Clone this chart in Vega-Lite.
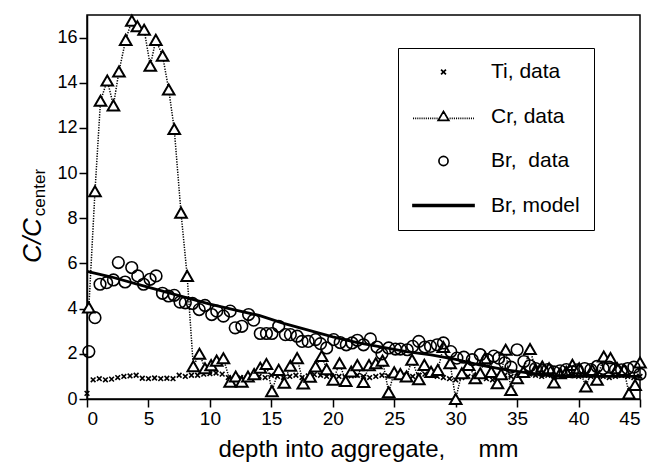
{
  "$schema": "https://vega.github.io/schema/vega-lite/v6.json",
  "width": 553,
  "height": 384,
  "autosize": {"type": "none"},
  "padding": {"left": 87, "top": 15, "right": 14, "bottom": 69},
  "background": "white",
  "config": {
    "font": "Liberation Sans",
    "view": {"stroke": "black", "strokeWidth": 1.5},
    "axis": {
      "grid": false,
      "domainColor": "black",
      "domainWidth": 1.5,
      "tickColor": "black",
      "tickWidth": 1.5,
      "tickSize": 8,
      "labelColor": "black",
      "labelFontSize": 18,
      "labelFont": "Liberation Sans",
      "titleColor": "black",
      "titleFont": "Liberation Sans",
      "titleFontWeight": "normal",
      "labelPadding": 2
    }
  },
  "data": {
    "values": [
      {"series": "Ti, data", "depth": 0.0, "ratio": 0.25},
      {"series": "Ti, data", "depth": 0.5, "ratio": 0.85},
      {"series": "Ti, data", "depth": 1.0, "ratio": 0.9},
      {"series": "Ti, data", "depth": 1.5, "ratio": 0.85},
      {"series": "Ti, data", "depth": 2.0, "ratio": 0.88},
      {"series": "Ti, data", "depth": 2.5, "ratio": 0.95},
      {"series": "Ti, data", "depth": 3.0, "ratio": 1.0},
      {"series": "Ti, data", "depth": 3.5, "ratio": 1.02},
      {"series": "Ti, data", "depth": 4.0, "ratio": 1.05},
      {"series": "Ti, data", "depth": 4.5, "ratio": 0.92},
      {"series": "Ti, data", "depth": 5.0, "ratio": 0.9},
      {"series": "Ti, data", "depth": 5.5, "ratio": 0.93},
      {"series": "Ti, data", "depth": 6.0, "ratio": 0.9},
      {"series": "Ti, data", "depth": 6.5, "ratio": 0.92},
      {"series": "Ti, data", "depth": 7.0, "ratio": 0.9},
      {"series": "Ti, data", "depth": 7.5, "ratio": 1.05},
      {"series": "Ti, data", "depth": 8.0, "ratio": 1.0},
      {"series": "Ti, data", "depth": 8.5, "ratio": 1.05},
      {"series": "Ti, data", "depth": 9.0, "ratio": 1.05},
      {"series": "Ti, data", "depth": 9.5, "ratio": 1.1},
      {"series": "Ti, data", "depth": 10.0, "ratio": 1.12},
      {"series": "Ti, data", "depth": 10.5, "ratio": 1.15},
      {"series": "Ti, data", "depth": 11.0, "ratio": 1.1},
      {"series": "Ti, data", "depth": 11.5, "ratio": 0.95},
      {"series": "Ti, data", "depth": 12.0, "ratio": 0.9},
      {"series": "Ti, data", "depth": 12.5, "ratio": 0.95},
      {"series": "Ti, data", "depth": 13.0, "ratio": 0.92},
      {"series": "Ti, data", "depth": 13.5, "ratio": 0.98},
      {"series": "Ti, data", "depth": 14.0, "ratio": 1.0},
      {"series": "Ti, data", "depth": 14.5, "ratio": 0.95},
      {"series": "Ti, data", "depth": 15.0, "ratio": 1.05},
      {"series": "Ti, data", "depth": 15.5, "ratio": 1.0},
      {"series": "Ti, data", "depth": 16.0, "ratio": 0.95},
      {"series": "Ti, data", "depth": 16.5, "ratio": 1.0},
      {"series": "Ti, data", "depth": 17.0, "ratio": 1.05},
      {"series": "Ti, data", "depth": 17.5, "ratio": 0.95},
      {"series": "Ti, data", "depth": 18.0, "ratio": 1.02},
      {"series": "Ti, data", "depth": 18.5, "ratio": 1.08},
      {"series": "Ti, data", "depth": 19.0, "ratio": 1.05},
      {"series": "Ti, data", "depth": 19.5, "ratio": 1.0},
      {"series": "Ti, data", "depth": 20.0, "ratio": 0.95},
      {"series": "Ti, data", "depth": 20.5, "ratio": 1.0},
      {"series": "Ti, data", "depth": 21.0, "ratio": 0.98},
      {"series": "Ti, data", "depth": 21.5, "ratio": 1.02},
      {"series": "Ti, data", "depth": 22.0, "ratio": 1.05},
      {"series": "Ti, data", "depth": 22.5, "ratio": 1.0},
      {"series": "Ti, data", "depth": 23.0, "ratio": 0.95},
      {"series": "Ti, data", "depth": 23.5, "ratio": 1.0},
      {"series": "Ti, data", "depth": 24.0, "ratio": 1.05},
      {"series": "Ti, data", "depth": 24.5, "ratio": 1.02},
      {"series": "Ti, data", "depth": 25.0, "ratio": 1.05},
      {"series": "Ti, data", "depth": 25.5, "ratio": 1.1},
      {"series": "Ti, data", "depth": 26.0, "ratio": 1.05},
      {"series": "Ti, data", "depth": 26.5, "ratio": 1.0},
      {"series": "Ti, data", "depth": 27.0, "ratio": 1.05},
      {"series": "Ti, data", "depth": 27.5, "ratio": 1.1},
      {"series": "Ti, data", "depth": 28.0, "ratio": 1.05},
      {"series": "Ti, data", "depth": 28.5, "ratio": 1.0},
      {"series": "Ti, data", "depth": 29.0, "ratio": 0.95},
      {"series": "Ti, data", "depth": 29.5, "ratio": 0.9},
      {"series": "Ti, data", "depth": 30.0, "ratio": 0.85},
      {"series": "Ti, data", "depth": 30.5, "ratio": 0.95},
      {"series": "Ti, data", "depth": 31.0, "ratio": 1.0},
      {"series": "Ti, data", "depth": 31.5, "ratio": 0.95},
      {"series": "Ti, data", "depth": 32.0, "ratio": 1.0},
      {"series": "Ti, data", "depth": 32.5, "ratio": 0.9},
      {"series": "Ti, data", "depth": 33.0, "ratio": 0.85},
      {"series": "Ti, data", "depth": 33.5, "ratio": 1.0},
      {"series": "Ti, data", "depth": 34.0, "ratio": 1.05},
      {"series": "Ti, data", "depth": 34.5, "ratio": 1.0},
      {"series": "Ti, data", "depth": 35.0, "ratio": 1.0},
      {"series": "Ti, data", "depth": 35.5, "ratio": 1.05},
      {"series": "Ti, data", "depth": 36.0, "ratio": 1.1},
      {"series": "Ti, data", "depth": 36.5, "ratio": 1.05},
      {"series": "Ti, data", "depth": 37.0, "ratio": 1.0},
      {"series": "Ti, data", "depth": 37.5, "ratio": 1.05},
      {"series": "Ti, data", "depth": 38.0, "ratio": 1.0},
      {"series": "Ti, data", "depth": 38.5, "ratio": 1.05},
      {"series": "Ti, data", "depth": 39.0, "ratio": 1.1},
      {"series": "Ti, data", "depth": 39.5, "ratio": 1.05},
      {"series": "Ti, data", "depth": 40.0, "ratio": 1.0},
      {"series": "Ti, data", "depth": 40.5, "ratio": 1.05},
      {"series": "Ti, data", "depth": 41.0, "ratio": 1.0},
      {"series": "Ti, data", "depth": 41.5, "ratio": 1.05},
      {"series": "Ti, data", "depth": 42.0, "ratio": 1.0},
      {"series": "Ti, data", "depth": 42.5, "ratio": 0.95},
      {"series": "Ti, data", "depth": 43.0, "ratio": 1.0},
      {"series": "Ti, data", "depth": 43.5, "ratio": 1.05},
      {"series": "Ti, data", "depth": 44.0, "ratio": 1.0},
      {"series": "Ti, data", "depth": 44.5, "ratio": 0.95},
      {"series": "Ti, data", "depth": 45.0, "ratio": 1.0},

      {"series": "Cr, data", "depth": 0.15, "ratio": 4.05},
      {"series": "Cr, data", "depth": 0.65, "ratio": 9.2},
      {"series": "Cr, data", "depth": 1.1, "ratio": 13.2},
      {"series": "Cr, data", "depth": 1.65, "ratio": 14.1},
      {"series": "Cr, data", "depth": 2.15, "ratio": 13.0},
      {"series": "Cr, data", "depth": 2.6, "ratio": 14.5},
      {"series": "Cr, data", "depth": 3.15, "ratio": 15.9},
      {"series": "Cr, data", "depth": 3.65, "ratio": 16.75},
      {"series": "Cr, data", "depth": 4.1, "ratio": 16.5},
      {"series": "Cr, data", "depth": 4.65, "ratio": 16.35},
      {"series": "Cr, data", "depth": 5.15, "ratio": 14.75},
      {"series": "Cr, data", "depth": 5.6, "ratio": 15.9},
      {"series": "Cr, data", "depth": 6.15, "ratio": 15.2},
      {"series": "Cr, data", "depth": 6.65, "ratio": 13.7},
      {"series": "Cr, data", "depth": 7.1, "ratio": 11.95},
      {"series": "Cr, data", "depth": 7.65, "ratio": 8.25},
      {"series": "Cr, data", "depth": 8.15, "ratio": 5.45},
      {"series": "Cr, data", "depth": 8.65, "ratio": 1.45},
      {"series": "Cr, data", "depth": 9.15, "ratio": 2.0},
      {"series": "Cr, data", "depth": 9.6, "ratio": 1.36},
      {"series": "Cr, data", "depth": 10.1, "ratio": 1.5},
      {"series": "Cr, data", "depth": 10.55, "ratio": 1.7},
      {"series": "Cr, data", "depth": 11.1, "ratio": 1.8},
      {"series": "Cr, data", "depth": 11.65, "ratio": 0.77},
      {"series": "Cr, data", "depth": 12.1, "ratio": 1.0},
      {"series": "Cr, data", "depth": 12.6, "ratio": 0.77},
      {"series": "Cr, data", "depth": 13.1, "ratio": 1.0},
      {"series": "Cr, data", "depth": 13.6, "ratio": 1.1},
      {"series": "Cr, data", "depth": 14.1, "ratio": 1.38},
      {"series": "Cr, data", "depth": 14.6, "ratio": 1.55},
      {"series": "Cr, data", "depth": 15.05, "ratio": 0.35},
      {"series": "Cr, data", "depth": 15.6, "ratio": 1.29},
      {"series": "Cr, data", "depth": 16.05, "ratio": 0.72},
      {"series": "Cr, data", "depth": 16.55, "ratio": 1.47},
      {"series": "Cr, data", "depth": 17.1, "ratio": 1.81},
      {"series": "Cr, data", "depth": 17.6, "ratio": 0.69},
      {"series": "Cr, data", "depth": 18.15, "ratio": 0.99},
      {"series": "Cr, data", "depth": 18.6, "ratio": 1.44},
      {"series": "Cr, data", "depth": 19.1, "ratio": 1.9},
      {"series": "Cr, data", "depth": 19.5, "ratio": 1.32},
      {"series": "Cr, data", "depth": 20.05, "ratio": 0.85},
      {"series": "Cr, data", "depth": 20.55, "ratio": 1.58},
      {"series": "Cr, data", "depth": 21.05, "ratio": 0.8},
      {"series": "Cr, data", "depth": 21.5, "ratio": 1.22},
      {"series": "Cr, data", "depth": 22.0, "ratio": 1.5},
      {"series": "Cr, data", "depth": 22.5, "ratio": 0.75},
      {"series": "Cr, data", "depth": 22.95, "ratio": 1.5},
      {"series": "Cr, data", "depth": 23.5, "ratio": 1.58},
      {"series": "Cr, data", "depth": 24.05, "ratio": 1.7},
      {"series": "Cr, data", "depth": 24.55, "ratio": 0.3},
      {"series": "Cr, data", "depth": 25.0, "ratio": 1.18},
      {"series": "Cr, data", "depth": 25.5, "ratio": 1.1},
      {"series": "Cr, data", "depth": 26.0, "ratio": 1.0},
      {"series": "Cr, data", "depth": 26.45, "ratio": 1.74},
      {"series": "Cr, data", "depth": 27.0, "ratio": 0.88},
      {"series": "Cr, data", "depth": 27.45, "ratio": 1.51},
      {"series": "Cr, data", "depth": 28.0, "ratio": 1.2},
      {"series": "Cr, data", "depth": 28.55, "ratio": 1.29},
      {"series": "Cr, data", "depth": 29.0, "ratio": 2.3},
      {"series": "Cr, data", "depth": 29.55, "ratio": 1.58},
      {"series": "Cr, data", "depth": 30.0, "ratio": 0.0},
      {"series": "Cr, data", "depth": 30.5, "ratio": 1.14},
      {"series": "Cr, data", "depth": 31.05, "ratio": 1.51},
      {"series": "Cr, data", "depth": 31.6, "ratio": 0.92},
      {"series": "Cr, data", "depth": 32.0, "ratio": 1.14},
      {"series": "Cr, data", "depth": 32.4, "ratio": 1.81},
      {"series": "Cr, data", "depth": 32.9, "ratio": 1.2},
      {"series": "Cr, data", "depth": 33.4, "ratio": 0.7},
      {"series": "Cr, data", "depth": 33.7, "ratio": 1.1},
      {"series": "Cr, data", "depth": 34.07, "ratio": 2.18},
      {"series": "Cr, data", "depth": 34.5, "ratio": 0.4},
      {"series": "Cr, data", "depth": 35.0, "ratio": 0.92},
      {"series": "Cr, data", "depth": 35.5, "ratio": 1.2},
      {"series": "Cr, data", "depth": 36.05, "ratio": 2.21},
      {"series": "Cr, data", "depth": 36.5, "ratio": 1.3},
      {"series": "Cr, data", "depth": 37.05, "ratio": 1.44},
      {"series": "Cr, data", "depth": 37.6, "ratio": 1.36},
      {"series": "Cr, data", "depth": 38.0, "ratio": 0.73},
      {"series": "Cr, data", "depth": 38.5, "ratio": 1.14},
      {"series": "Cr, data", "depth": 39.0, "ratio": 1.2},
      {"series": "Cr, data", "depth": 39.5, "ratio": 1.51},
      {"series": "Cr, data", "depth": 40.05, "ratio": 1.36},
      {"series": "Cr, data", "depth": 40.6, "ratio": 0.55},
      {"series": "Cr, data", "depth": 41.1, "ratio": 1.29},
      {"series": "Cr, data", "depth": 41.5, "ratio": 0.85},
      {"series": "Cr, data", "depth": 42.05, "ratio": 1.88},
      {"series": "Cr, data", "depth": 42.6, "ratio": 1.81},
      {"series": "Cr, data", "depth": 43.15, "ratio": 1.36},
      {"series": "Cr, data", "depth": 43.7, "ratio": 1.29},
      {"series": "Cr, data", "depth": 44.1, "ratio": 0.25},
      {"series": "Cr, data", "depth": 44.6, "ratio": 0.62},
      {"series": "Cr, data", "depth": 45.0, "ratio": 1.62},

      {"series": "Br,\u00a0 data", "depth": 0.15, "ratio": 2.1},
      {"series": "Br,\u00a0 data", "depth": 0.65, "ratio": 3.6},
      {"series": "Br,\u00a0 data", "depth": 1.06, "ratio": 5.08},
      {"series": "Br,\u00a0 data", "depth": 1.6, "ratio": 5.15},
      {"series": "Br,\u00a0 data", "depth": 2.15, "ratio": 5.27},
      {"series": "Br,\u00a0 data", "depth": 2.55, "ratio": 6.04},
      {"series": "Br,\u00a0 data", "depth": 3.1, "ratio": 5.18},
      {"series": "Br,\u00a0 data", "depth": 3.64, "ratio": 5.82},
      {"series": "Br,\u00a0 data", "depth": 4.13, "ratio": 5.45},
      {"series": "Br,\u00a0 data", "depth": 4.6, "ratio": 5.08},
      {"series": "Br,\u00a0 data", "depth": 5.13, "ratio": 5.3},
      {"series": "Br,\u00a0 data", "depth": 5.62, "ratio": 5.45},
      {"series": "Br,\u00a0 data", "depth": 6.14, "ratio": 4.68},
      {"series": "Br,\u00a0 data", "depth": 6.63, "ratio": 4.56},
      {"series": "Br,\u00a0 data", "depth": 7.1, "ratio": 4.59},
      {"series": "Br,\u00a0 data", "depth": 7.57, "ratio": 4.29},
      {"series": "Br,\u00a0 data", "depth": 8.0, "ratio": 4.26},
      {"series": "Br,\u00a0 data", "depth": 8.58, "ratio": 4.23},
      {"series": "Br,\u00a0 data", "depth": 9.13, "ratio": 3.96},
      {"series": "Br,\u00a0 data", "depth": 9.6, "ratio": 4.14},
      {"series": "Br,\u00a0 data", "depth": 10.15, "ratio": 3.74},
      {"series": "Br,\u00a0 data", "depth": 10.56, "ratio": 3.89},
      {"series": "Br,\u00a0 data", "depth": 11.1, "ratio": 3.67},
      {"series": "Br,\u00a0 data", "depth": 11.65, "ratio": 3.89},
      {"series": "Br,\u00a0 data", "depth": 12.06, "ratio": 3.15},
      {"series": "Br,\u00a0 data", "depth": 12.6, "ratio": 3.22},
      {"series": "Br,\u00a0 data", "depth": 13.15, "ratio": 3.74},
      {"series": "Br,\u00a0 data", "depth": 13.56, "ratio": 3.49},
      {"series": "Br,\u00a0 data", "depth": 14.1, "ratio": 2.9},
      {"series": "Br,\u00a0 data", "depth": 14.6, "ratio": 2.9},
      {"series": "Br,\u00a0 data", "depth": 15.05, "ratio": 2.9},
      {"series": "Br,\u00a0 data", "depth": 15.6, "ratio": 3.22},
      {"series": "Br,\u00a0 data", "depth": 16.14, "ratio": 2.85},
      {"series": "Br,\u00a0 data", "depth": 16.55, "ratio": 2.85},
      {"series": "Br,\u00a0 data", "depth": 17.1, "ratio": 2.78},
      {"series": "Br,\u00a0 data", "depth": 17.5, "ratio": 2.55},
      {"series": "Br,\u00a0 data", "depth": 18.0, "ratio": 2.55},
      {"series": "Br,\u00a0 data", "depth": 18.6, "ratio": 2.63},
      {"series": "Br,\u00a0 data", "depth": 19.0, "ratio": 2.45},
      {"series": "Br,\u00a0 data", "depth": 19.5, "ratio": 2.26},
      {"series": "Br,\u00a0 data", "depth": 20.07, "ratio": 2.63},
      {"series": "Br,\u00a0 data", "depth": 20.6, "ratio": 2.5},
      {"series": "Br,\u00a0 data", "depth": 21.1, "ratio": 2.4},
      {"series": "Br,\u00a0 data", "depth": 21.57, "ratio": 2.48},
      {"series": "Br,\u00a0 data", "depth": 22.0, "ratio": 2.6},
      {"series": "Br,\u00a0 data", "depth": 22.5, "ratio": 2.4},
      {"series": "Br,\u00a0 data", "depth": 23.06, "ratio": 2.66},
      {"series": "Br,\u00a0 data", "depth": 23.6, "ratio": 2.3},
      {"series": "Br,\u00a0 data", "depth": 24.0, "ratio": 2.0},
      {"series": "Br,\u00a0 data", "depth": 24.55, "ratio": 2.26},
      {"series": "Br,\u00a0 data", "depth": 25.1, "ratio": 2.21},
      {"series": "Br,\u00a0 data", "depth": 25.5, "ratio": 2.21},
      {"series": "Br,\u00a0 data", "depth": 26.06, "ratio": 2.18},
      {"series": "Br,\u00a0 data", "depth": 26.5, "ratio": 2.33},
      {"series": "Br,\u00a0 data", "depth": 27.0, "ratio": 2.55},
      {"series": "Br,\u00a0 data", "depth": 27.5, "ratio": 2.3},
      {"series": "Br,\u00a0 data", "depth": 27.95, "ratio": 2.33},
      {"series": "Br,\u00a0 data", "depth": 28.5, "ratio": 2.4},
      {"series": "Br,\u00a0 data", "depth": 29.0, "ratio": 2.48},
      {"series": "Br,\u00a0 data", "depth": 29.6, "ratio": 2.1},
      {"series": "Br,\u00a0 data", "depth": 30.1, "ratio": 1.81},
      {"series": "Br,\u00a0 data", "depth": 30.66, "ratio": 1.85},
      {"series": "Br,\u00a0 data", "depth": 31.35, "ratio": 1.74},
      {"series": "Br,\u00a0 data", "depth": 32.0, "ratio": 1.96},
      {"series": "Br,\u00a0 data", "depth": 32.6, "ratio": 1.74},
      {"series": "Br,\u00a0 data", "depth": 33.1, "ratio": 1.9},
      {"series": "Br,\u00a0 data", "depth": 33.5, "ratio": 1.81},
      {"series": "Br,\u00a0 data", "depth": 34.0, "ratio": 1.6},
      {"series": "Br,\u00a0 data", "depth": 34.5, "ratio": 1.41},
      {"series": "Br,\u00a0 data", "depth": 35.0, "ratio": 2.18},
      {"series": "Br,\u00a0 data", "depth": 35.55, "ratio": 1.66},
      {"series": "Br,\u00a0 data", "depth": 36.05, "ratio": 1.47},
      {"series": "Br,\u00a0 data", "depth": 36.5, "ratio": 1.35},
      {"series": "Br,\u00a0 data", "depth": 37.05, "ratio": 1.26},
      {"series": "Br,\u00a0 data", "depth": 37.5, "ratio": 1.3},
      {"series": "Br,\u00a0 data", "depth": 38.0, "ratio": 1.2},
      {"series": "Br,\u00a0 data", "depth": 38.5, "ratio": 1.25},
      {"series": "Br,\u00a0 data", "depth": 39.0, "ratio": 1.3},
      {"series": "Br,\u00a0 data", "depth": 39.5, "ratio": 1.2},
      {"series": "Br,\u00a0 data", "depth": 39.9, "ratio": 1.29},
      {"series": "Br,\u00a0 data", "depth": 40.5, "ratio": 1.35},
      {"series": "Br,\u00a0 data", "depth": 41.0, "ratio": 1.3},
      {"series": "Br,\u00a0 data", "depth": 41.5, "ratio": 1.44},
      {"series": "Br,\u00a0 data", "depth": 42.0, "ratio": 1.35},
      {"series": "Br,\u00a0 data", "depth": 42.5, "ratio": 1.41},
      {"series": "Br,\u00a0 data", "depth": 43.0, "ratio": 1.3},
      {"series": "Br,\u00a0 data", "depth": 43.5, "ratio": 1.29},
      {"series": "Br,\u00a0 data", "depth": 44.0, "ratio": 1.35},
      {"series": "Br,\u00a0 data", "depth": 44.5, "ratio": 1.41},
      {"series": "Br,\u00a0 data", "depth": 45.0, "ratio": 1.1},

      {"series": "Br, model", "depth": 0, "ratio": 5.65},
      {"series": "Br, model", "depth": 2, "ratio": 5.4},
      {"series": "Br, model", "depth": 4, "ratio": 5.1},
      {"series": "Br, model", "depth": 6, "ratio": 4.8},
      {"series": "Br, model", "depth": 8, "ratio": 4.5},
      {"series": "Br, model", "depth": 10, "ratio": 4.2},
      {"series": "Br, model", "depth": 12, "ratio": 3.95},
      {"series": "Br, model", "depth": 14, "ratio": 3.7},
      {"series": "Br, model", "depth": 16, "ratio": 3.35},
      {"series": "Br, model", "depth": 18, "ratio": 3.05},
      {"series": "Br, model", "depth": 20, "ratio": 2.75},
      {"series": "Br, model", "depth": 22, "ratio": 2.5},
      {"series": "Br, model", "depth": 24, "ratio": 2.3},
      {"series": "Br, model", "depth": 26, "ratio": 2.1},
      {"series": "Br, model", "depth": 28, "ratio": 1.95},
      {"series": "Br, model", "depth": 30, "ratio": 1.75},
      {"series": "Br, model", "depth": 32, "ratio": 1.5},
      {"series": "Br, model", "depth": 34, "ratio": 1.3},
      {"series": "Br, model", "depth": 36, "ratio": 1.15},
      {"series": "Br, model", "depth": 38, "ratio": 1.05},
      {"series": "Br, model", "depth": 40, "ratio": 1.0},
      {"series": "Br, model", "depth": 42, "ratio": 1.0},
      {"series": "Br, model", "depth": 45, "ratio": 1.0}
    ]
  },
  "encoding": {
    "x": {
      "field": "depth",
      "type": "quantitative",
      "scale": {"domain": [0, 45], "nice": false, "zero": false},
      "axis": {
        "values": [0, 5, 10, 15, 20, 25, 30, 35, 40, 45],
        "labelFontSize": 19,
        "title": "depth into aggregate,\u00a0\u00a0\u00a0\u00a0 mm",
        "titleFontSize": 24,
        "titlePadding": 9,
        "titleX": 281
      }
    }
  },
  "layer": [
    {
      "encoding": {
        "y": {
          "field": "ratio",
          "type": "quantitative",
          "scale": {"domain": [0, 17], "nice": false, "zero": false},
          "axis": {
            "values": [0, 2, 4, 6, 8, 10, 12, 14, 16],
            "title": "C/C",
            "titleFontSize": 26,
            "titleFontStyle": "italic",
            "titleAngle": 270,
            "titleAlign": "center",
            "titleBaseline": "alphabetic",
            "titleX": -47,
            "titleY": 225
          }
        }
      },
      "layer": [
        {
          "mark": {"type": "point", "opacity": 0, "filled": false},
          "encoding": {
            "shape": {
              "field": "series",
              "type": "nominal",
              "scale": {
                "domain": ["Ti, data", "Cr, data", "Br,\u00a0 data", "Br, model"],
                "range": [
                  "M-0.08,-0.08L0.08,0.08M-0.08,0.08L0.08,-0.08",
                  "M0,-0.17L0.175,0.13L-0.175,0.13ZM-1,0.06h0.035M-0.93,0.06h0.035M-0.86,0.06h0.035M-0.79,0.06h0.035M-0.72,0.06h0.035M-0.65,0.06h0.035M-0.58,0.06h0.035M-0.51,0.06h0.035M-0.44,0.06h0.035M-0.37,0.06h0.035M-0.3,0.06h0.035M-0.23,0.06h0.035M0.2,0.06h0.035M0.27,0.06h0.035M0.34,0.06h0.035M0.41,0.06h0.035M0.48,0.06h0.035M0.55,0.06h0.035M0.62,0.06h0.035M0.69,0.06h0.035M0.76,0.06h0.035M0.83,0.06h0.035M0.9,0.06h0.035M0.97,0.06h0.03",
                  "M0.15,0A0.15,0.15,0,1,1,-0.15,0A0.15,0.15,0,1,1,0.15,0Z",
                  "M-1,-0.028L1,-0.028L1,0.028L-1,0.028Z"
                ]
              },
              "legend": {
                "title": null,
                "orient": "none",
                "legendX": 311,
                "legendY": 33,
                "padding": 14,
                "strokeColor": "black",
                "fillColor": "white",
                "symbolSize": 3721,
                "symbolStrokeColor": "black",
                "symbolFillColor": "transparent",
                "symbolStrokeWidth": 1.7,
                "symbolOpacity": 1,
                "labelFontSize": 21,
                "labelFont": "Liberation Sans",
                "labelColor": "black",
                "labelOffset": 16,
                "labelLimit": 300,
                "clipHeight": 20,
                "rowPadding": 23.5
              }
            }
          }
        },
        {
          "transform": [{"filter": "datum.series === 'Cr, data'"}],
          "mark": {"type": "line", "color": "black", "strokeWidth": 1.5, "strokeDash": [1.3, 1.3]}
        },
        {
          "transform": [{"filter": "datum.series === 'Ti, data'"}],
          "mark": {"type": "point", "shape": "M-1,-1L1,1M-1,1L1,-1", "size": 22, "filled": false, "stroke": "black", "strokeWidth": 1.6, "opacity": 1}
        },
        {
          "transform": [{"filter": "datum.series === 'Cr, data'"}],
          "mark": {"type": "point", "shape": "triangle-up", "size": 135, "fill": "white", "stroke": "black", "strokeWidth": 2, "opacity": 1}
        },
        {
          "transform": [{"filter": "datum.series === 'Br,\u00a0 data'"}],
          "mark": {"type": "point", "shape": "circle", "size": 135, "filled": false, "stroke": "black", "strokeWidth": 1.6, "opacity": 1}
        }
      ]
    },
    {
      "transform": [{"filter": "datum.series === 'Br, model'"}],
      "mark": {"type": "line", "color": "black", "strokeWidth": 2.8},
      "encoding": {
        "y": {
          "field": "ratio",
          "type": "quantitative",
          "scale": {"domain": [0, 17], "nice": false, "zero": false},
          "axis": {
            "orient": "left",
            "title": "center",
            "labels": false,
            "ticks": false,
            "domain": false,
            "titleFontSize": 17,
            "titleFontStyle": "normal",
            "titleAngle": 270,
            "titleAlign": "center",
            "titleBaseline": "alphabetic",
            "titleX": -43,
            "titleY": 177
          }
        }
      }
    }
  ],
  "resolve": {"scale": {"y": "independent"}, "axis": {"y": "independent"}}
}
